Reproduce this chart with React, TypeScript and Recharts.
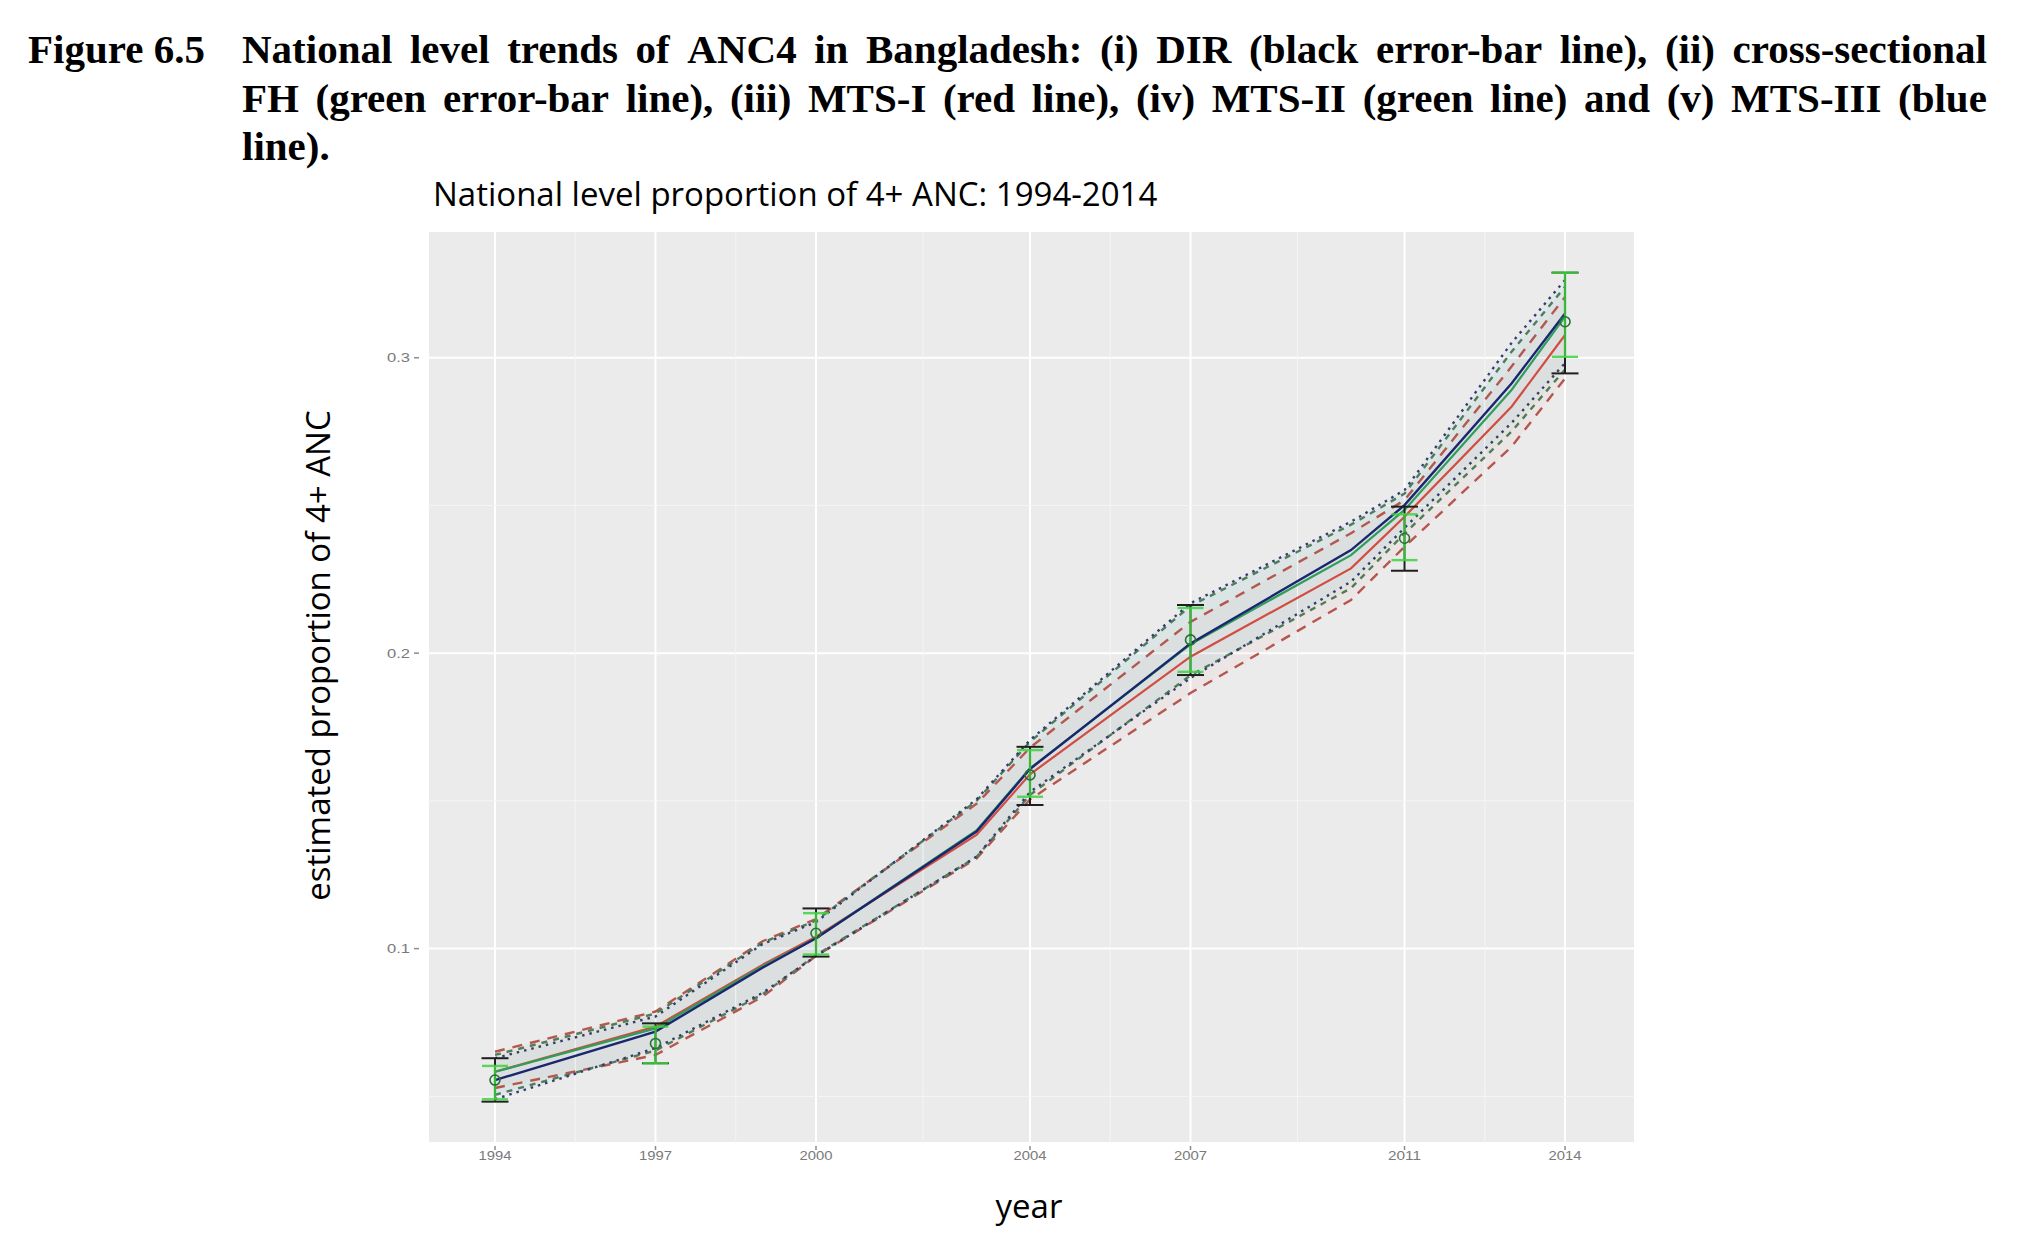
import React from "react";
import {
  ComposedChart,
  Line,
  Area,
  Scatter,
  ErrorBar,
  XAxis,
  YAxis,
  CartesianGrid,
  ReferenceLine,
} from "recharts";

// model years (MTS fitted curves)
const years = [1994, 1997, 1999, 2000, 2003, 2004, 2007, 2010, 2011, 2013, 2014];

// MTS-I (red)
const mts1 = [0.0583, 0.0736, 0.0945, 0.104, 0.1385, 0.159, 0.1988, 0.2287, 0.2462, 0.2834, 0.3077];
const mts1Lo = [0.0528, 0.064, 0.0837, 0.0975, 0.1305, 0.1505, 0.1865, 0.218, 0.236, 0.2699, 0.293];
const mts1Hi = [0.0651, 0.0787, 0.1025, 0.11, 0.149, 0.168, 0.2106, 0.2406, 0.2518, 0.297, 0.3206];

// MTS-II (green)
const mts2 = [0.0583, 0.073, 0.094, 0.1035, 0.14, 0.161, 0.203, 0.2332, 0.2485, 0.2891, 0.3139];
const mts2Lo = [0.0505, 0.0655, 0.0845, 0.0978, 0.131, 0.152, 0.1925, 0.222, 0.2405, 0.275, 0.296];
const mts2Hi = [0.064, 0.078, 0.102, 0.1095, 0.15, 0.17, 0.216, 0.2435, 0.254, 0.302, 0.324];

// MTS-III (blue)
const mts3 = [0.0555, 0.0719, 0.0935, 0.1035, 0.1396, 0.1608, 0.2033, 0.2349, 0.2501, 0.2913, 0.315];
const mts3Lo = [0.049, 0.0663, 0.085, 0.0975, 0.1311, 0.153, 0.1916, 0.2242, 0.2424, 0.2779, 0.2982];
const mts3Hi = [0.0629, 0.077, 0.1015, 0.109, 0.1505, 0.1706, 0.2169, 0.2445, 0.2552, 0.305, 0.3263];

// survey years (error bars)
const surveyYears = [1994, 1997, 2000, 2004, 2007, 2011, 2014];
const dirLo = [0.0482, 0.0612, 0.0973, 0.1486, 0.1926, 0.2279, 0.2947];
const dirHi = [0.0629, 0.0747, 0.1136, 0.1683, 0.2163, 0.2496, 0.3288];
const fhEst = [0.0555, 0.0679, 0.1052, 0.1588, 0.2045, 0.2389, 0.3122];
const fhLo = [0.049, 0.0612, 0.098, 0.1514, 0.1937, 0.2315, 0.3003];
const fhHi = [0.0603, 0.0736, 0.112, 0.1672, 0.2153, 0.247, 0.3288];

const yTicks = [0.1, 0.2, 0.3];
const minorY = [0.05, 0.15, 0.25];
const minorX = [1995.5, 1998.5, 2002, 2005.5, 2009, 2012.5];

const rows = years.map((year, i) => ({
  year,
  mts1: mts1[i],
  mts1Lo: mts1Lo[i],
  mts1Hi: mts1Hi[i],
  band1: [mts1Lo[i], mts1Hi[i]],
  mts2: mts2[i],
  mts2Lo: mts2Lo[i],
  mts2Hi: mts2Hi[i],
  band2: [mts2Lo[i], mts2Hi[i]],
  mts3: mts3[i],
  mts3Lo: mts3Lo[i],
  mts3Hi: mts3Hi[i],
  band3: [mts3Lo[i], mts3Hi[i]],
}));

const dirRows = surveyYears.map((year, i) => {
  const mid = (dirLo[i] + dirHi[i]) / 2;
  return { year, mid, err: [mid - dirLo[i], dirHi[i] - mid] };
});

const fhRows = surveyYears.map((year, i) => ({
  year,
  est: fhEst[i],
  err: [fhEst[i] - fhLo[i], fhHi[i] - fhEst[i]],
}));

const tickFont = "'Liberation Sans', Arial, sans-serif";

function YTick(props: any) {
  const { x, y, payload } = props;
  return (
    <g>
      <line x1={x - 14} x2={x - 9} y1={y} y2={y} stroke="#8c8c8c" strokeWidth={1.5} />
      <text
        x={x - 18}
        y={y}
        dy="0.36em"
        textAnchor="end"
        fontSize={12.5}
        fill="#7a7a7a"
        fontFamily={tickFont}
        textLength={23}
        lengthAdjust="spacingAndGlyphs"
      >
        {payload.value.toFixed(1)}
      </text>
    </g>
  );
}

function XTick(props: any) {
  const { x, y, payload } = props;
  return (
    <g>
      <line x1={x} x2={x} y1={y + 3} y2={y + 7} stroke="#8c8c8c" strokeWidth={1.5} />
      <text
        x={x}
        y={y + 17}
        textAnchor="middle"
        fontSize={12.5}
        fill="#7a7a7a"
        fontFamily={tickFont}
        textLength={33}
        lengthAdjust="spacingAndGlyphs"
      >
        {payload.value}
      </text>
    </g>
  );
}

const captionLine: React.CSSProperties = {
  position: "absolute",
  left: 242,
  width: 1745,
  fontFamily: "'Liberation Serif', 'Times New Roman', serif",
  fontWeight: "bold",
  fontSize: 41,
  lineHeight: "48.6px",
  whiteSpace: "nowrap",
  color: "#000",
};

const sansText: React.CSSProperties = {
  position: "absolute",
  fontFamily: "'Open Sans', sans-serif",
  fontSize: 33,
  lineHeight: "33px",
  color: "#000",
  whiteSpace: "nowrap",
};

export default function App() {
  return (
    <div style={{ position: "absolute", left: 0, top: 0, width: 2032, height: 1246, background: "#fff" }}>
      <div style={{ ...captionLine, left: 28, width: 200, top: 25.2 }}>Figure 6.5</div>
      <div style={{ ...captionLine, top: 25.2, display: "flex", justifyContent: "space-between" }}>
        {"National level trends of ANC4 in Bangladesh: (i) DIR (black error-bar line), (ii) cross-sectional"
          .split(" ")
          .map((w, i) => (
            <span key={i}>{w}</span>
          ))}
      </div>
      <div style={{ ...captionLine, top: 73.8, display: "flex", justifyContent: "space-between" }}>
        {"FH (green error-bar line), (iii) MTS-I (red line), (iv) MTS-II (green line) and (v) MTS-III (blue"
          .split(" ")
          .map((w, i) => (
            <span key={i}>{w}</span>
          ))}
      </div>
      <div style={{ ...captionLine, top: 122.4 }}>line).</div>

      <div style={{ ...sansText, left: 433, top: 176.7 }}>National level proportion of 4+ ANC: 1994-2014</div>
      <div
        style={{
          ...sansText,
          left: 17,
          top: 638.5,
          width: 600,
          textAlign: "center",
          transform: "rotate(-90deg)",
        }}
      >
        estimated proportion of 4+ ANC
      </div>
      <div style={{ ...sansText, left: 929, top: 1189, width: 200, textAlign: "center" }}>year</div>

      <div style={{ position: "absolute", left: 0, top: 0 }}>
        <ComposedChart
          width={2032}
          height={1246}
          data={rows}
          margin={{ top: 231, right: 397, bottom: 63, left: 368 }}
        >
          <CartesianGrid fill="#EBEBEB" fillOpacity={1} stroke="#ffffff" strokeWidth={2} />
          {minorY.map((v) => (
            <ReferenceLine key={"my" + v} y={v} stroke="#f5f5f5" strokeWidth={1} />
          ))}
          {minorX.map((v) => (
            <ReferenceLine key={"mx" + v} x={v} stroke="#f5f5f5" strokeWidth={1} />
          ))}
          <XAxis
            type="number"
            dataKey="year"
            domain={[1992.748, 2015.308]}
            allowDataOverflow
            ticks={surveyYears}
            axisLine={false}
            tickLine={false}
            tickSize={0}
            tickMargin={0}
            height={40}
            tick={<XTick />}
            interval={0}
          />
          <YAxis
            type="number"
            domain={[0.0342, 0.3429]}
            allowDataOverflow
            ticks={yTicks}
            axisLine={false}
            tickLine={false}
            tickSize={0}
            tickMargin={0}
            width={60}
            tick={<YTick />}
            interval={0}
          />

          <Area dataKey="band1" stroke="none" fill="#F8766D" fillOpacity={0.05} isAnimationActive={false} />
          <Area dataKey="band2" stroke="none" fill="#00BA38" fillOpacity={0.035} isAnimationActive={false} />
          <Area dataKey="band3" stroke="none" fill="#619CFF" fillOpacity={0.05} isAnimationActive={false} />

          <Line dataKey="mts1Hi" stroke="#b5574f" strokeWidth={2.4} strokeDasharray="10 8" dot={false} isAnimationActive={false} />
          <Line dataKey="mts1Lo" stroke="#b5574f" strokeWidth={2.4} strokeDasharray="10 8" dot={false} isAnimationActive={false} />
          <Line dataKey="mts2Hi" stroke="#4f7d5a" strokeWidth={2.4} strokeDasharray="6 6" dot={false} isAnimationActive={false} />
          <Line dataKey="mts2Lo" stroke="#4f7d5a" strokeWidth={2.4} strokeDasharray="6 6" dot={false} isAnimationActive={false} />
          <Line dataKey="mts3Hi" stroke="#333d70" strokeWidth={2.4} strokeDasharray="2.5 5" dot={false} isAnimationActive={false} />
          <Line dataKey="mts3Lo" stroke="#333d70" strokeWidth={2.4} strokeDasharray="2.5 5" dot={false} isAnimationActive={false} />

          <Line dataKey="mts1" stroke="#d24c40" strokeWidth={2.2} dot={false} isAnimationActive={false} />
          <Line dataKey="mts2" stroke="#2f9e5a" strokeWidth={2.2} dot={false} isAnimationActive={false} />
          <Line dataKey="mts3" stroke="#1b2670" strokeWidth={2.4} dot={false} isAnimationActive={false} />

          <Scatter data={dirRows} dataKey="mid" shape={() => <g />} isAnimationActive={false}>
            <ErrorBar dataKey="err" direction="y" width={13.5} stroke="#1f1f1f" strokeWidth={2} />
          </Scatter>
          <Scatter
            data={fhRows}
            dataKey="est"
            isAnimationActive={false}
            shape={(p: any) => (
              <circle cx={p.cx} cy={p.cy} r={5} fill="none" stroke="#2b6e3a" strokeWidth={1.6} />
            )}
          >
            <ErrorBar dataKey="err" direction="y" width={13} stroke="#3fd23f" strokeOpacity={0.85} strokeWidth={2.4} />
          </Scatter>
        </ComposedChart>
      </div>
    </div>
  );
}
